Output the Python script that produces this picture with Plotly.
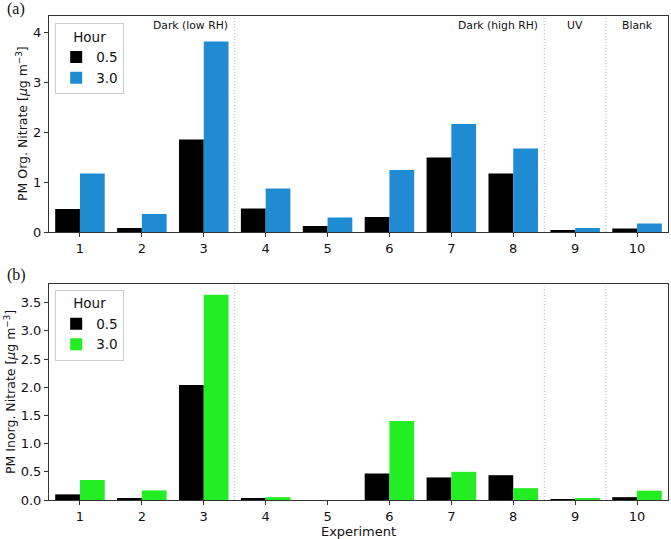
import plotly.graph_objects as go

experiments = [1, 2, 3, 4, 5, 6, 7, 8, 9, 10]
org_h05 = [0.46, 0.08, 1.85, 0.47, 0.12, 0.30, 1.49, 1.17, 0.04, 0.07]
org_h30 = [1.17, 0.36, 3.81, 0.87, 0.29, 1.24, 2.16, 1.67, 0.08, 0.17]
inorg_h05 = [0.10, 0.03, 2.04, 0.035, 0.0, 0.47, 0.40, 0.44, 0.01, 0.05]
inorg_h30 = [0.355, 0.17, 3.64, 0.05, 0.0, 1.40, 0.50, 0.21, 0.035, 0.165]
separators = [3.5, 8.5, 9.5]
group_labels = ["Dark (low RH)", "Dark (high RH)", "UV", "Blank"]
group_label_x = [3.42, 8.44, 9.0, 10.0]
group_label_anchor = ["right", "right", "center", "center"]

FONT = "DejaVu Sans"
BLACK = "#000000"
BLUE = "#1f8bd2"
GREEN = "#22ee22"
AXC = "#333333"

fig = go.Figure()
bw = 0.4
fig.add_trace(go.Bar(x=experiments, y=org_h05, name="0.5", marker_color=BLACK, width=bw,
                     offset=-bw, xaxis="x", yaxis="y", legend="legend", marker_line_width=0))
fig.add_trace(go.Bar(x=experiments, y=org_h30, name="3.0", marker_color=BLUE, width=bw,
                     offset=0, xaxis="x", yaxis="y", legend="legend", marker_line_width=0))
fig.add_trace(go.Bar(x=experiments, y=inorg_h05, name="0.5", marker_color=BLACK, width=bw,
                     offset=-bw, xaxis="x2", yaxis="y2", legend="legend2", marker_line_width=0))
fig.add_trace(go.Bar(x=experiments, y=inorg_h30, name="3.0", marker_color=GREEN, width=bw,
                     offset=0, xaxis="x2", yaxis="y2", legend="legend2", marker_line_width=0))

axis_common = dict(showline=True, linecolor=AXC, linewidth=1, mirror=True, ticks="outside",
                   tickcolor=AXC, ticklen=4, showgrid=False, zeroline=False, automargin=False,
                   tickfont=dict(family=FONT, size=13, color="#111"))

W, H = 671, 539
ML, MR, MT, MB = 49, 3, 16, 39
ph = H - MT - MB
pw = W - ML - MR
top_dom = [1 - 216 / ph, 1.0]
bot_dom = [0.0, 216 / ph]

fig.update_layout(
    width=W, height=H,
    margin=dict(l=ML, r=MR, t=MT, b=MB),
    paper_bgcolor="white", plot_bgcolor="white",
    barmode="overlay",
    font=dict(family=FONT, color="#111"),
    xaxis=dict(domain=[0, 1], anchor="y", range=[0.5, 10.5], tickvals=experiments, **axis_common),
    yaxis=dict(domain=top_dom, anchor="x", range=[0, 4.32], tickvals=[0, 1, 2, 3, 4], **axis_common),
    xaxis2=dict(domain=[0, 1], anchor="y2", range=[0.5, 10.5], tickvals=experiments,
                title=dict(text="Experiment", font=dict(size=13), standoff=2), **axis_common),
    yaxis2=dict(domain=bot_dom, anchor="x2", range=[0, 3.83],
                tickvals=[0, 0.5, 1, 1.5, 2, 2.5, 3, 3.5], tickformat=".1f", **axis_common),
    legend=dict(x=0.01, y=0.985, xanchor="left", yanchor="top", bgcolor="white",
                bordercolor="#cccccc", borderwidth=1,
                title=dict(text="Hour", side="top center", font=dict(size=13.5)),
                font=dict(size=13.5)),
    legend2=dict(x=0.01, y=216 / ph - 0.012, xanchor="left", yanchor="top", bgcolor="white",
                 bordercolor="#cccccc", borderwidth=1,
                 title=dict(text="Hour", side="top center", font=dict(size=13.5)),
                 font=dict(size=13.5)),
)

for txt, xpx, dom in [("PM Org. Nitrate [<i>μ</i>g m<sup>−3</sup>]", 22, top_dom),
                      ("PM Inorg. Nitrate [<i>μ</i>g m<sup>−3</sup>]", 10, bot_dom)]:
    fig.add_annotation(x=(xpx - ML) / pw, y=(dom[0] + dom[1]) / 2, xref="paper", yref="paper",
                       text=txt, textangle=-90, showarrow=False, xanchor="center", yanchor="middle",
                       font=dict(family=FONT, size=12.5, color="#111"))

for xs in separators:
    for xr, yr in [("x", "y domain"), ("x2", "y2 domain")]:
        fig.add_shape(type="line", xref=xr, yref=yr, x0=xs, x1=xs, y0=0, y1=1,
                      line=dict(color="#9db9c6", width=1, dash="1px,2px"), layer="below")

for txt, gx, anc in zip(group_labels, group_label_x, group_label_anchor):
    fig.add_annotation(x=gx, y=0.955, xref="x", yref="y domain", text=txt, showarrow=False,
                       xanchor=anc, yanchor="middle", font=dict(family=FONT, size=10.8, color="#111"))

for lbl, ypx in [("(a)", 9), ("(b)", 275)]:
    fig.add_annotation(x=(5 - ML) / pw, y=(H - MB - ypx) / ph, xref="paper", yref="paper", text=lbl,
                       showarrow=False, xanchor="left", yanchor="middle",
                       font=dict(family="Liberation Serif", size=16, color="#111"))

fig.write_html("out.html", config={"displayModeBar": False},
               post_script="document.body.style.margin='0px';")
